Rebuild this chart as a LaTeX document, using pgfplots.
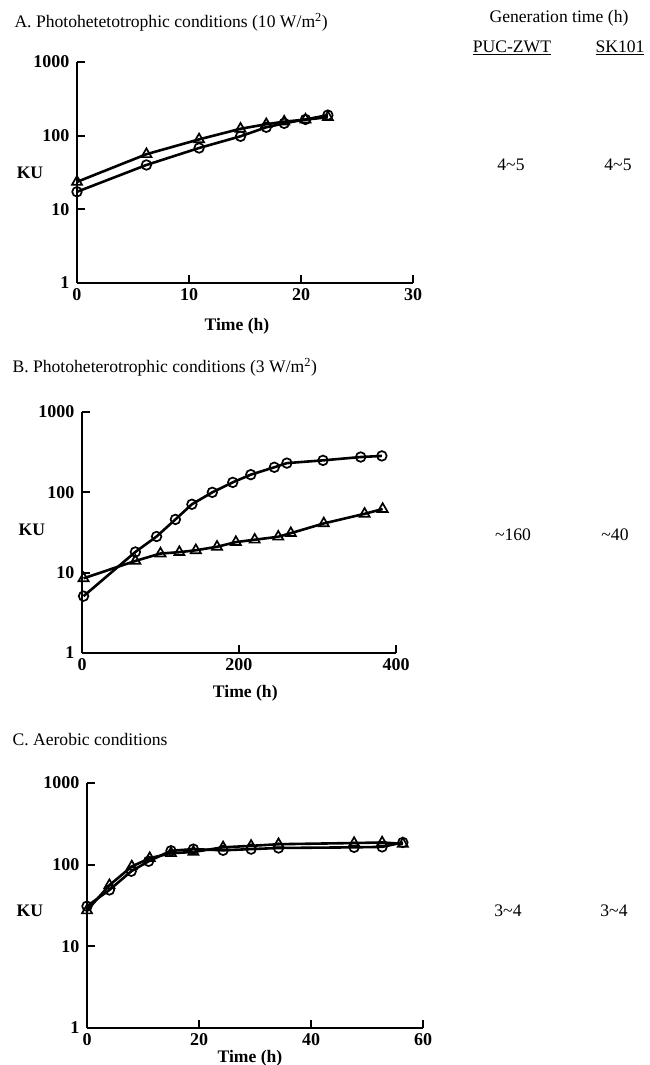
\documentclass[border=0pt]{standalone}
\usepackage{fontspec}
\setmainfont{Liberation Serif}
\usepackage{pgfplots}
\pgfplotsset{compat=1.18}

\newcommand{\txtfont}{\fontsize{17.6}{20}\selectfont}
\newcommand{\lblfont}{\bfseries\fontsize{17.6}{20}\selectfont}

% PUC-ZWT = circles, SK101 = triangles
\pgfplotsset{
  kupanel/.style={
    scale only axis,
    ymin=1, ymax=1000,
    ytick={1,10,100,1000},
    yticklabels={1,10,100,1000},
    axis lines=left,
    axis line style={-, line width=2pt},
    tick align=inside,
    major tick length=8pt,
    tick style={line width=2pt, black},
    minor y tick style={draw=none},
    tick label style={font=\bfseries\fontsize{18}{20}\selectfont},
    yticklabel style={xshift=-4pt},
    xticklabel style={yshift=-2pt},
    clip=false,
  },
  circ/.style={black, line width=2.6pt, mark=o, mark size=4.8pt,
    mark options={solid, fill=white, line width=1.7pt}},
  tri/.style={black, line width=2.6pt, mark=triangle, mark size=5.8pt,
    mark options={solid, fill=white, line width=1.7pt}},
}

\begin{document}
\begin{tikzpicture}[x=1pt,y=1pt]
\path[use as bounding box] (0,0) rectangle (649,1065);

% ---------- A ----------
\node[anchor=west, font=\txtfont] at (11,1043) {A. Photohetetotrophic conditions (10 W/m\textsuperscript{2})};
\begin{semilogyaxis}[kupanel,
  at={(77pt,782pt)}, anchor=south west, width=336pt, height=221pt,
  xmin=0, xmax=30, xtick={0,10,20,30}, xticklabels={0,10,20,30},
  xlabel={Time (h)}, ylabel={KU},
  every axis x label/.style={at={(axis description cs:0.476,-0.195)}, anchor=center, font=\lblfont},
  every axis y label/.style={at={(axis description cs:-0.14,0.5)}, anchor=center, font=\lblfont},
]
\addplot[tri] coordinates {
  (0,23.6)(6.2,56)(10.9,89)(14.6,124)(16.9,143)(18.5,155)(20.4,165)(22.4,178)
};
\addplot[circ] coordinates {
  (0,17.3)(6.2,40)(10.9,68)(14.6,98)(16.9,130)(18.5,147)(20.4,166)(22.4,190)
};
\end{semilogyaxis}

% ---------- B ----------
\node[anchor=west, font=\txtfont] at (9,698) {B. Photoheterotrophic conditions (3 W/m\textsuperscript{2})};
\begin{semilogyaxis}[kupanel,
  at={(82pt,412pt)}, anchor=south west, width=314pt, height=241pt,
  xmin=0, xmax=400, xtick={0,200,400}, xticklabels={0,200,400},
  xlabel={Time (h)}, ylabel={KU},
  every axis x label/.style={at={(axis description cs:0.52,-0.166)}, anchor=center, font=\lblfont},
  every axis y label/.style={at={(axis description cs:-0.16,0.51)}, anchor=center, font=\lblfont},
]
\addplot[tri] coordinates {
  (2,8.5)(68,14)(100,17.3)(124,18)(145,19)(172,21)(196,24)(220,25.7)
  (250,28)(266,31)(308,41)(360,54)(383,62)
};
\addplot[circ] coordinates {
  (2,5.1)(68,18.1)(95,28.2)(119,46)(140,71)(166,100)(192,133)(215,166)
  (245,205)(261,231)(307,250)(355,275)(382,284)
};
\end{semilogyaxis}

% ---------- C ----------
\node[anchor=west, font=\txtfont] at (9,325) {C. Aerobic conditions};
\begin{semilogyaxis}[kupanel,
  at={(87pt,37pt)}, anchor=south west, width=336pt, height=245pt,
  xmin=0, xmax=60, xtick={0,20,40,60}, xticklabels={0,20,40,60},
  xlabel={Time (h)}, ylabel={KU},
  every axis x label/.style={at={(axis description cs:0.485,-0.122)}, anchor=center, font=\lblfont},
  every axis y label/.style={at={(axis description cs:-0.17,0.48)}, anchor=center, font=\lblfont},
]
\addplot[tri] coordinates {
  (0,27.5)(4,56)(8,95)(11.2,120)(15,138)(19,143)(24.3,163)(29.3,170)
  (34.2,178)(47.7,184)(52.7,187)(56.4,180)
};
\addplot[circ] coordinates {
  (0,31)(4,49)(7.9,83)(11,110)(15,148)(19,155)(24.3,150)(29.3,155)
  (34.2,160)(47.7,163)(52.7,165)(56.4,187)
};
\end{semilogyaxis}

% ---------- generation times ----------
\begin{scope}[every node/.style={font=\txtfont, anchor=center}]
\node at (559,1047) {Generation time (h)};
\node at (512,1017) {\underline{PUC-ZWT}};
\node at (620,1017) {\underline{SK101}};
\node at (511,900) {4\textasciitilde5};
\node at (618,900) {4\textasciitilde5};
\node at (513,530) {\textasciitilde160};
\node at (615,530) {\textasciitilde40};
\node at (508,154) {3\textasciitilde4};
\node at (614,154) {3\textasciitilde4};
\end{scope}
\end{tikzpicture}
\end{document}
